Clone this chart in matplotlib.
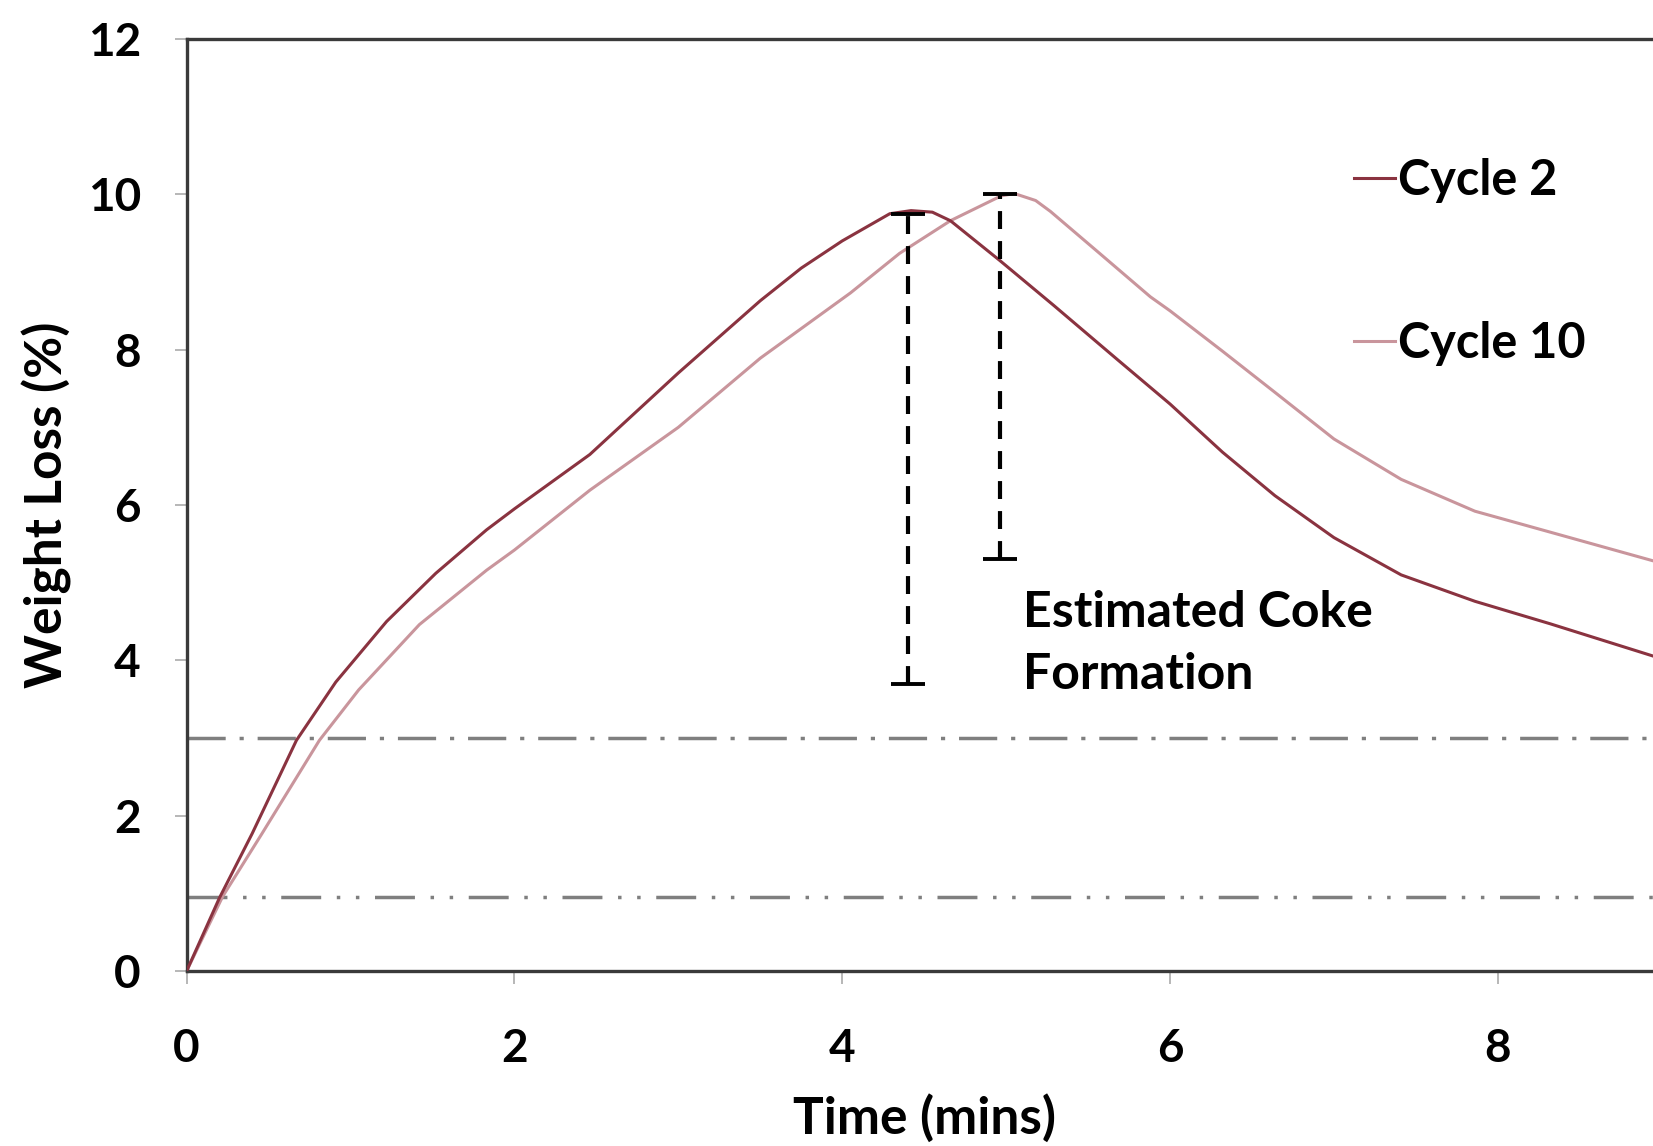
import matplotlib
matplotlib.use("Agg")
import matplotlib.pyplot as plt

plt.rcParams['font.family'] = ['Lato', 'DejaVu Sans']
plt.rcParams['font.weight'] = 'bold'

# weight loss traces (time in mins, weight loss in %)
cycle2_time = [0, 0.2, 0.4, 0.67, 0.91, 1.22, 1.52, 1.83, 2.0, 2.46, 3.0, 3.5,
               3.75, 4.0, 4.29, 4.42, 4.55, 4.66, 4.96, 5.29, 5.68, 6.0, 6.32,
               6.64, 7.0, 7.41, 7.86, 8.32, 9.0]
cycle2_loss = [0, 0.94, 1.77, 2.97, 3.72, 4.5, 5.12, 5.68, 5.95, 6.65, 7.7, 8.63,
               9.05, 9.4, 9.75, 9.79, 9.77, 9.66, 9.15, 8.57, 7.87, 7.3, 6.68,
               6.12, 5.58, 5.1, 4.76, 4.47, 4.02]

cycle10_time = [0, 0.22, 0.46, 0.81, 1.05, 1.42, 1.83, 2.0, 2.46, 3.0, 3.5, 4.05,
                4.35, 4.66, 4.97, 5.05, 5.18, 5.27, 5.57, 5.88, 6.0, 6.32, 6.64,
                7.0, 7.41, 7.86, 8.32, 9.0]
cycle10_loss = [0, 0.96, 1.77, 2.97, 3.62, 4.46, 5.16, 5.42, 6.19, 7.0, 7.89, 8.73,
                9.24, 9.66, 9.98, 10.01, 9.92, 9.78, 9.24, 8.68, 8.5, 7.98, 7.45,
                6.85, 6.33, 5.92, 5.65, 5.25]

# coke formation markers: peak and end value
coke_time = [4.4, 4.96]
coke_top = [9.75, 10.0]
coke_bottom = [3.7, 5.3]

# reference levels
level_upper = 3.0
level_lower = 0.95

fig = plt.figure(figsize=(16.53, 11.46), dpi=100)
ax = fig.add_axes([0.1129, 0.1527, 0.8924, 0.8133])

ax.axhline(level_upper, color='#7f7f7f', lw=2.5, ls=(0, (11, 4, 1.2, 4)), zorder=1)
ax.axhline(level_lower, color='#7f7f7f', lw=2.5,
           ls=(0, (11.5, 4.5, 1, 4.5, 1, 4.5)), zorder=1)

ax.plot(cycle2_time, cycle2_loss, color='#8a3340', lw=2.2, label='Cycle 2', zorder=3)
ax.plot(cycle10_time, cycle10_loss, color='#c9959c', lw=2.2, label='Cycle 10', zorder=2)

mid = [(t + b) / 2 for t, b in zip(coke_top, coke_bottom)]
half = [(t - b) / 2 for t, b in zip(coke_top, coke_bottom)]
eb = ax.errorbar(coke_time, mid, yerr=half, fmt='none', ecolor='black',
                 elinewidth=3, capsize=12, capthick=2.8, zorder=4)
eb[2][0].set_linestyle((0, (4.3, 2.9)))

ax.text(5.1, 4.22, 'Estimated Coke\nFormation', fontsize=36, fontweight='bold',
        va='center', ha='left', linespacing=1.45)

ax.set_xlim(0, 9)
ax.set_ylim(0, 12)
ax.set_xticks([0, 2, 4, 6, 8])
ax.set_yticks([0, 2, 4, 6, 8, 10, 12])
ax.tick_params(axis='both', labelsize=33, length=9, width=1.2, color='#aaaaaa')
ax.tick_params(axis='y', pad=24)
ax.tick_params(axis='x', pad=32)
for lab in ax.get_xticklabels() + ax.get_yticklabels():
    lab.set_fontweight('bold')

for s in ax.spines.values():
    s.set_color('#3a3a3a')
    s.set_linewidth(2.4)

ax.set_xlabel('Time (mins)', fontsize=37, fontweight='bold', labelpad=17)
ax.set_ylabel('Weight Loss (%)', fontsize=37, fontweight='bold', labelpad=11)

ax.legend(loc='upper left', bbox_to_anchor=(0.819, 0.862), bbox_transform=fig.transFigure,
          frameon=False, fontsize=35, handlelength=0.85, handletextpad=0.05,
          labelspacing=2.43, borderpad=0, borderaxespad=0)

fig.savefig('out.png', dpi=100)
